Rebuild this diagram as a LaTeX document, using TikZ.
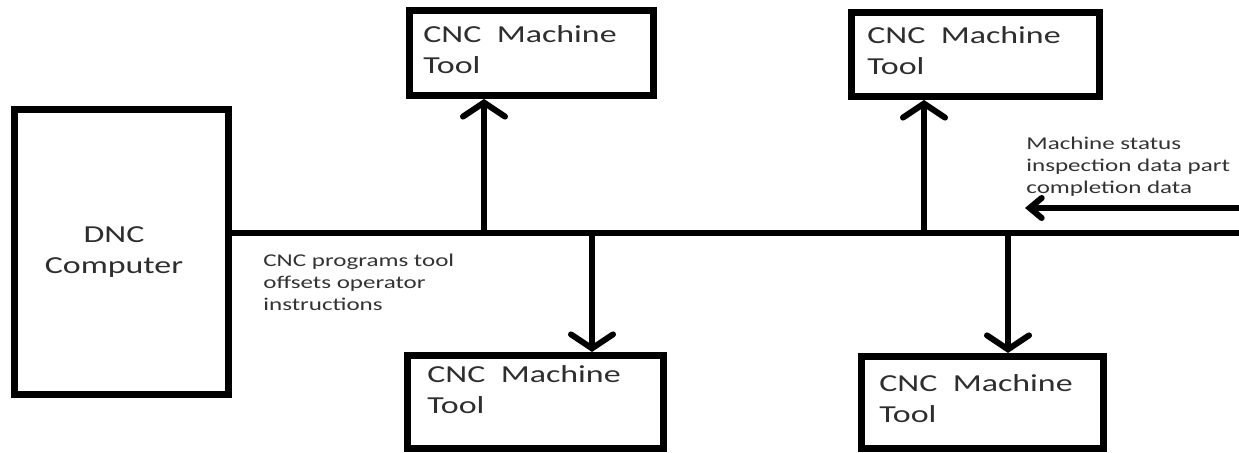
\documentclass[tikz,border=0pt]{standalone}
\usepackage{fontspec}
\setmainfont{Carlito}
\usepackage{graphicx}
\usetikzlibrary{arrows.meta}
\newcommand{\widetext}[1]{\scalebox{1.39}[1]{\begin{tabular}[t]{@{}l@{}}#1\end{tabular}}}
\newcommand{\widectext}[1]{\scalebox{1.39}[1]{\begin{tabular}[t]{@{}c@{}}#1\end{tabular}}}
\begin{document}
\begin{tikzpicture}[x=0.5pt,y=-0.5pt,
  mbox/.style={draw=black, line width=3.5pt, inner sep=0pt, fill=white},
  bigtxt/.style={inner sep=0pt, text=black!82, font=\fontsize{12.2}{15.5}\selectfont},
  smalltxt/.style={inner sep=0pt, text=black!80, font=\fontsize{9}{11}\selectfont},
  bus/.style={line width=3pt},
  arr/.style={line width=3pt, -{Straight Barb[length=7pt,width=21pt,line cap=round]}},
  sarr/.style={line width=3pt, -{Straight Barb[length=6pt,width=10pt,line cap=round]}}
]
\useasboundingbox[fill=white] (0,0) rectangle (1239,453);

% boxes
\node[mbox, minimum width=107pt, minimum height=142.5pt] (dnc) at (121,252.5) {};
\node[mbox, minimum width=122pt, minimum height=42.5pt] (t1) at (531.5,53) {};
\node[mbox, minimum width=124pt, minimum height=42pt] (t2) at (975.5,54.5) {};
\node[mbox, minimum width=128pt, minimum height=46.5pt] (b1) at (535.5,402) {};
\node[mbox, minimum width=121pt, minimum height=46pt] (b2) at (982.5,402.5) {};

% box texts
\node[bigtxt, anchor=base] (dnct) at (114,243) {\widectext{DNC\\Computer}};
\node[bigtxt, anchor=base west] (t1t) at (423,43) {\widetext{CNC\ \ Machine\\Tool}};
\node[bigtxt, anchor=base west] (t2t) at (867,44) {\widetext{CNC\ \ Machine\\Tool}};
\node[bigtxt, anchor=base west] (b1t) at (427,383) {\widetext{CNC\ \ Machine\\Tool}};
\node[bigtxt, anchor=base west] (b2t) at (879,392) {\widetext{CNC\ \ Machine\\Tool}};

% annotations
\node[smalltxt, anchor=base west] (lt) at (263,267) {\widetext{CNC programs tool\\offsets operator\\instructions}};
\node[smalltxt, anchor=base west] (rt) at (1026,150) {\widetext{Machine status\\inspection data part\\completion data}};

% bus
\coordinate (j1) at (484,233);
\coordinate (j2) at (592,233);
\coordinate (j3) at (924,233);
\coordinate (j4) at (1008,233);
\coordinate (busR) at (1239,233);
\draw[bus] (dnc.east |- j1) -- (busR);

% branches
\draw[arr] (j1) -- (j1 |- t1.south);
\draw[arr] (j2) -- (j2 |- b1.north);
\draw[arr] (j3) -- (j3 |- t2.south);
\draw[arr] (j4) -- (j4 |- b2.north);

% incoming status arrow
\coordinate (inR) at (1239,208);
\coordinate (inL) at (1025,208);
\draw[sarr] (inR) -- (inL);
\end{tikzpicture}
\end{document}
